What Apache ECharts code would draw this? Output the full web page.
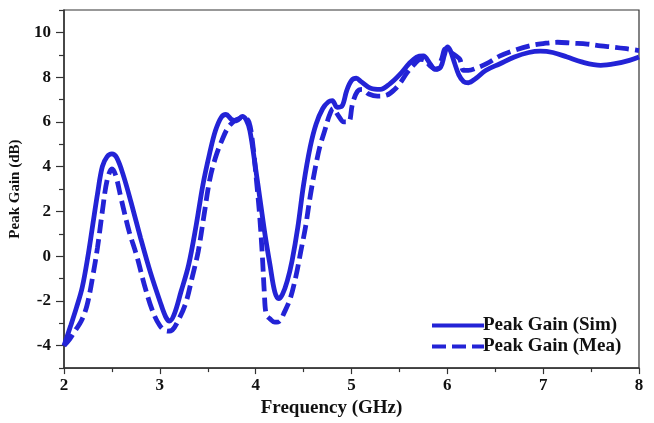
<!DOCTYPE html>
<html>
<head>
<meta charset="utf-8">
<script src="https://cdn.jsdelivr.net/npm/echarts@6/dist/echarts.min.js"></script>
<style>html,body{margin:0;padding:0;background:#fff;}#c{width:654px;height:423px;}</style>
</head>
<body>
<div id="c"></div>
<script>
var seriesNames = ['Peak Gain (Sim)', 'Peak Gain (Mea)'];
var xTitle = 'Frequency (GHz)';
var yTitle = 'Peak Gain (dB)';
var yMajorTicks = [-4, -2, 0, 2, 4, 6, 8, 10];
var yMinorTicks = [-5, -3, -1, 1, 3, 5, 7, 9, 11];

var freqSim = [2.00,2.07,2.13,2.19,2.25,2.30,2.35,2.40,2.45,2.50,2.55,2.62,2.70,2.80,2.90,3.00,3.06,3.10,3.15,3.22,3.30,3.38,3.45,3.52,3.58,3.64,3.69,3.75,3.80,3.86,3.90,3.94,4.00,4.05,4.10,4.15,4.20,4.24,4.28,4.33,4.38,4.44,4.50,4.57,4.63,4.70,4.76,4.80,4.85,4.90,4.95,5.00,5.05,5.10,5.20,5.30,5.40,5.50,5.60,5.68,5.75,5.82,5.87,5.93,5.97,6.00,6.03,6.07,6.12,6.17,6.22,6.30,6.40,6.55,6.70,6.85,6.97,7.10,7.25,7.40,7.60,7.75,7.90,8.00];
var gainSim = [-4.0,-3.1,-2.3,-1.4,0.0,1.4,2.8,4.0,4.45,4.57,4.4,3.6,2.4,0.8,-0.7,-2.0,-2.7,-2.9,-2.6,-1.6,-0.4,1.4,3.2,4.6,5.6,6.2,6.33,6.1,6.05,6.25,6.1,5.6,3.9,2.4,0.9,-0.4,-1.6,-1.9,-1.7,-1.1,-0.2,1.3,3.2,4.9,5.9,6.6,6.9,6.95,6.65,6.7,7.4,7.85,7.95,7.8,7.5,7.45,7.7,8.1,8.6,8.9,8.95,8.6,8.35,8.45,9.0,9.35,9.2,8.7,8.1,7.8,7.75,7.95,8.3,8.6,8.9,9.1,9.16,9.1,8.9,8.68,8.53,8.6,8.75,8.9];

var freqMea = [2.00,2.06,2.12,2.18,2.24,2.30,2.35,2.40,2.45,2.50,2.54,2.60,2.68,2.76,2.84,2.92,3.00,3.08,3.13,3.20,3.27,3.34,3.40,3.46,3.52,3.58,3.65,3.72,3.80,3.88,3.93,3.97,4.01,4.04,4.07,4.09,4.11,4.15,4.20,4.25,4.30,4.36,4.42,4.47,4.52,4.57,4.62,4.67,4.72,4.77,4.81,4.86,4.92,4.97,5.01,5.06,5.11,5.18,5.27,5.37,5.45,5.51,5.58,5.65,5.72,5.77,5.82,5.89,5.94,5.98,6.03,6.09,6.13,6.17,6.22,6.30,6.41,6.55,6.70,6.87,7.00,7.15,7.30,7.46,7.60,7.74,7.87,8.00];
var gainMea = [-4.0,-3.7,-3.3,-2.9,-2.2,-0.9,0.4,2.0,3.4,3.9,3.6,2.5,1.1,0.0,-1.3,-2.4,-3.1,-3.35,-3.3,-2.8,-2.1,-0.9,0.2,1.8,3.4,4.4,5.2,5.8,6.1,6.2,6.0,5.0,3.3,1.9,0.0,-1.6,-2.6,-2.8,-2.95,-2.9,-2.5,-1.9,-0.9,0.2,1.3,2.7,3.9,4.9,5.6,6.3,6.6,6.3,6.0,6.0,6.8,7.35,7.45,7.25,7.15,7.2,7.45,7.75,8.2,8.55,8.8,8.75,8.5,8.35,8.8,9.26,9.12,8.95,8.8,8.3,8.3,8.4,8.6,8.95,9.2,9.41,9.5,9.56,9.52,9.48,9.4,9.34,9.27,9.19];

function pairs(xs, ys) { return xs.map(function (x, i) { return [x, ys[i]]; }); }

var blue = '#2323d6';
var fontFam = '"Liberation Serif", "DejaVu Serif", serif';
var chart = echarts.init(document.getElementById('c'), null, {renderer: 'canvas'});
chart.setOption({
  animation: false,
  backgroundColor: '#fff',
  grid: {left: 64, right: 15, top: 10, bottom: 48, show: true, borderColor: '#333', borderWidth: 1.2, backgroundColor: 'transparent'},
  legend: {
    orient: 'vertical', left: 425, top: 311, itemWidth: 52, itemHeight: 12, itemGap: 2,
    itemStyle: {opacity: 0},
    lineStyle: {width: 4},
    textStyle: {fontFamily: fontFam, fontWeight: 'bold', fontSize: 19, color: '#111', padding: [0, 0, 0, -6]},
    data: seriesNames
  },
  xAxis: {
    type: 'value', min: 2, max: 8, interval: 1,
    name: xTitle, nameLocation: 'middle', nameGap: 29,
    nameTextStyle: {fontFamily: fontFam, fontWeight: 'bold', fontSize: 19, color: '#111', padding: [0, 40, 0, 0]},
    axisLine: {show: true, onZero: false, lineStyle: {color: '#333', width: 1.5}},
    axisTick: {show: true, inside: false, length: 6, lineStyle: {color: '#333', width: 1.2}},
    minorTick: {show: true, splitNumber: 2, length: 4, lineStyle: {color: '#333', width: 1.2}},
    axisLabel: {fontFamily: fontFam, fontWeight: 'bold', fontSize: 17, color: '#111', margin: 9},
    splitLine: {show: false}
  },
  yAxis: [{
    type: 'value', min: -5, max: 11,
    name: yTitle, nameLocation: 'middle', nameGap: 31,
    nameTextStyle: {fontFamily: fontFam, fontWeight: 'bold', fontSize: 15, color: '#111'},
    axisLine: {show: true, onZero: false, lineStyle: {color: '#333', width: 1.5}},
    axisTick: {show: true, inside: false, length: 8, customValues: yMajorTicks, lineStyle: {color: '#333', width: 1.2}},
    axisLabel: {fontFamily: fontFam, fontWeight: 'bold', fontSize: 17, color: '#111', margin: 13, customValues: yMajorTicks},
    splitLine: {show: false}
  }, {
    type: 'value', min: -5, max: 11, position: 'left',
    axisLine: {show: false, onZero: false},
    axisTick: {show: true, inside: false, length: 5, customValues: yMinorTicks, lineStyle: {color: '#333', width: 1.2}},
    axisLabel: {show: false, customValues: yMinorTicks},
    splitLine: {show: false}
  }],
  series: [{
    name: seriesNames[0], type: 'line', yAxisIndex: 0, data: pairs(freqSim, gainSim),
    symbol: 'none', smooth: 0.35, lineStyle: {color: blue, width: 4.8}, itemStyle: {color: blue}
  }, {
    name: seriesNames[1], type: 'line', yAxisIndex: 0, data: pairs(freqMea, gainMea),
    symbol: 'none', smooth: 0.35, lineStyle: {color: blue, width: 4.8, type: [14, 6]}, itemStyle: {color: blue}
  }]
});
</script>
</body>
</html>
